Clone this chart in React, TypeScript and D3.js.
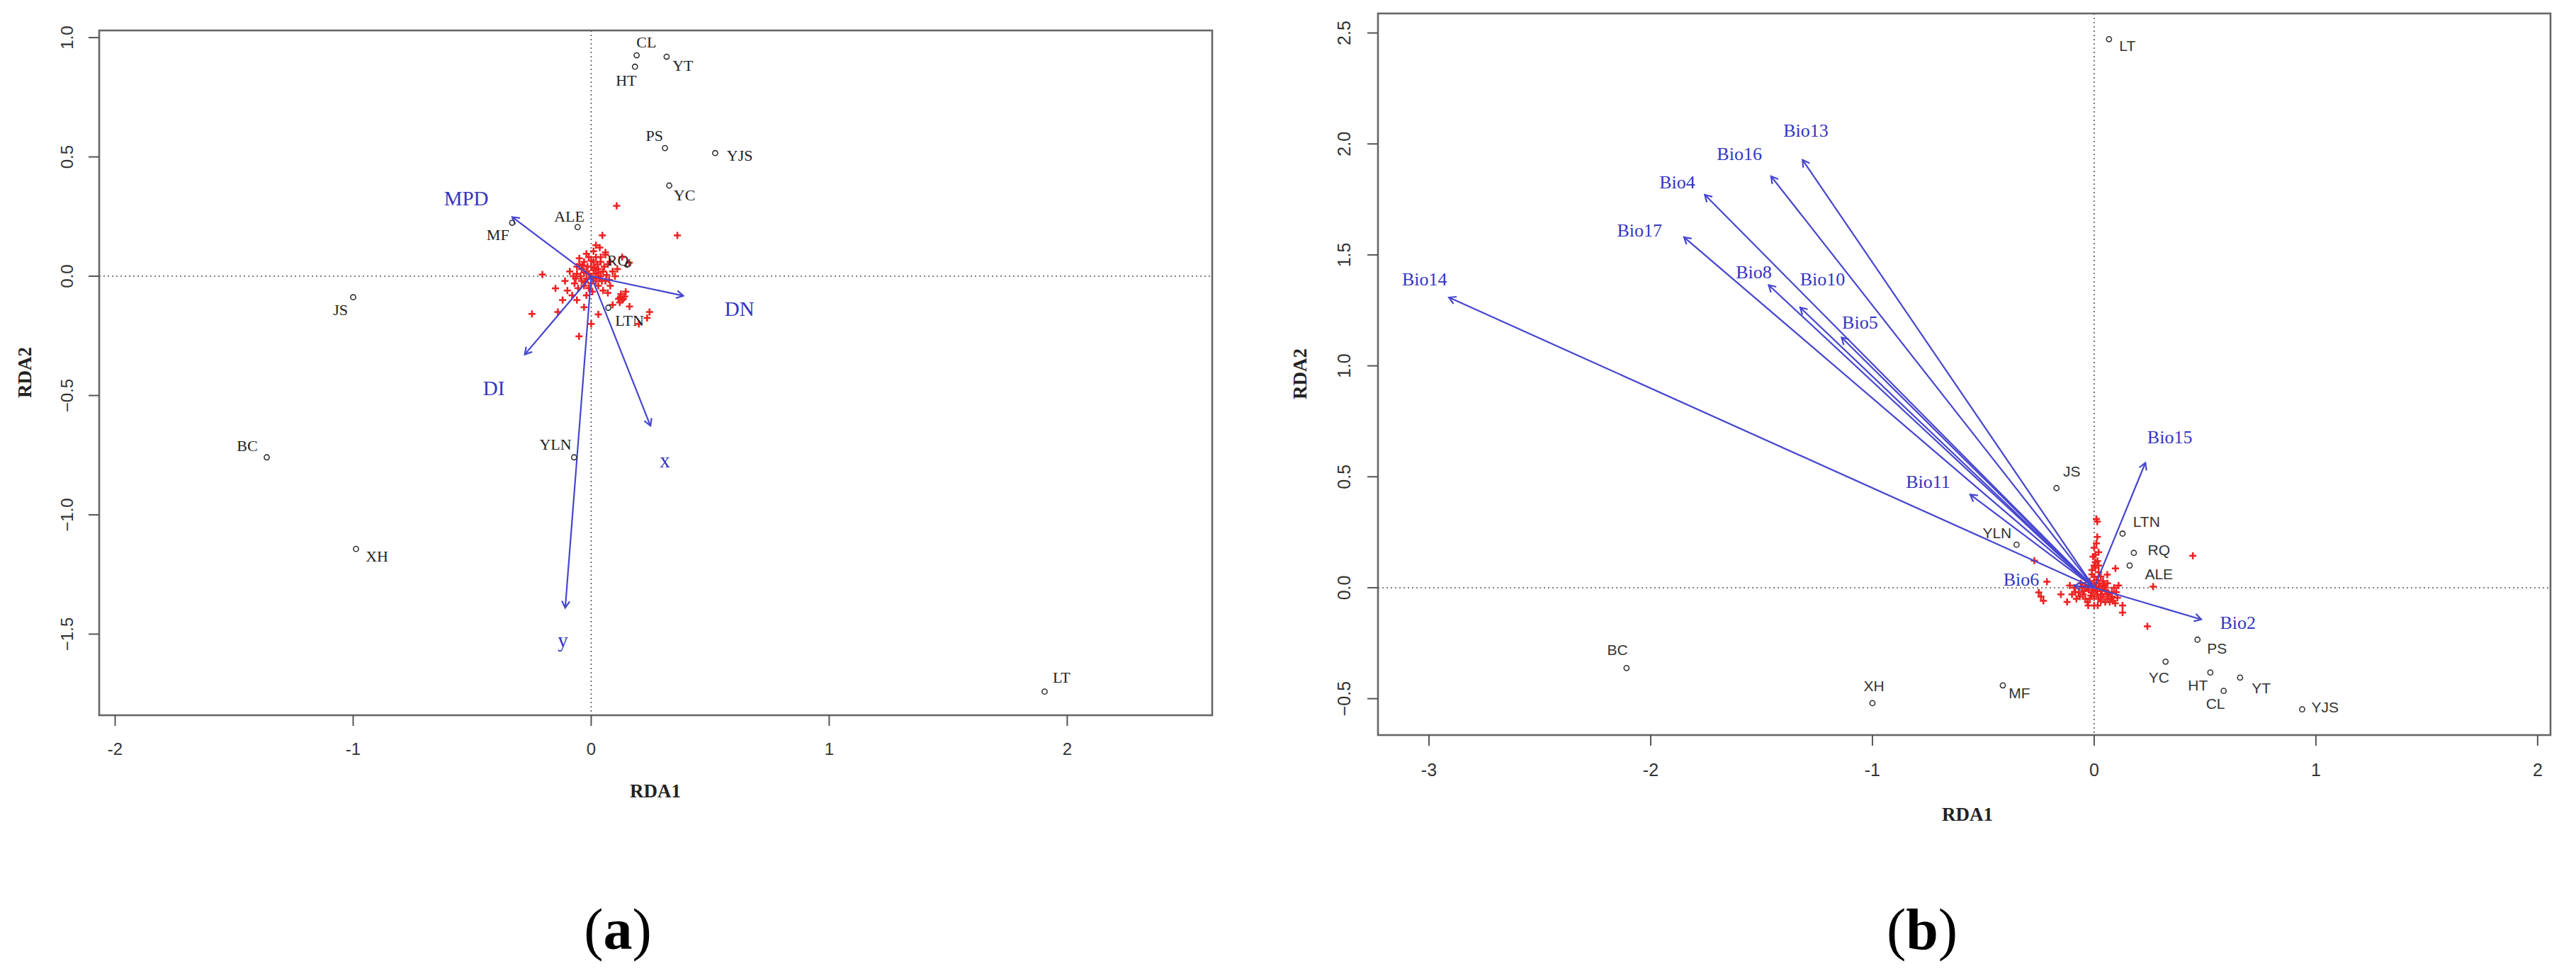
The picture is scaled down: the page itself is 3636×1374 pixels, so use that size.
import React from 'react';
import * as d3 from 'd3';

// ---------- Panel (a) data ----------
const siteNamesA = ["CL", "YT", "HT", "PS", "YJS", "YC", "ALE", "MF", "RQ", "JS", "LTN", "BC", "YLN", "XH", "LT"];
const siteScoresA: [number, number][] = [
  [0.191, 0.926], [0.317, 0.92], [0.184, 0.878], [0.31, 0.537], [0.521, 0.516], [0.328, 0.38],
  [-0.057, 0.206], [-0.332, 0.224], [0.156, 0.051], [-1.0, -0.088], [0.072, -0.132],
  [-1.363, -0.759], [-0.072, -0.759], [-0.988, -1.143], [1.905, -1.741],
];
const siteLabelPosA: [number, number][] = [
  [0.232, 0.982], [0.385, 0.884], [0.147, 0.821], [0.266, 0.589], [0.624, 0.506], [0.392, 0.341],
  [-0.092, 0.251], [-0.392, 0.173], [0.112, 0.067], [-1.053, -0.14], [0.161, -0.186],
  [-1.445, -0.711], [-0.15, -0.706], [-0.9, -1.174], [1.976, -1.682],
];
const varNamesA = ["MPD", "DN", "DI", "x", "y"];
const varTipsA: [number, number][] = [
  [-0.332, 0.248], [0.387, -0.082], [-0.279, -0.328], [0.249, -0.627], [-0.109, -1.39],
];
const varLabelPosA: [number, number][] = [
  [-0.525, 0.328], [0.623, -0.136], [-0.409, -0.47], [0.31, -0.773], [-0.119, -1.526],
];
const speciesA: [number, number][] = [
  [0.107, 0.295], [0.362, 0.171], [0.047, 0.171], [0.036, 0.12], [-0.02, 0.094], [0.01, 0.105],
  [0.06, 0.09], [0.16, 0.057], [-0.205, 0.007], [-0.15, -0.051], [-0.249, -0.158], [-0.14, -0.15],
  [-0.051, -0.252], [0.161, -0.127], [0.245, -0.15], [0.235, -0.175], [0.122, -0.089], [0.13, -0.1],
  [0.125, -0.075], [0.14, -0.085], [0.12, -0.11], [-0.11, -0.02], [-0.1, -0.06], [-0.06, -0.1],
  [-0.03, -0.13], [-0.08, -0.08], [0.05, -0.06], [0.08, -0.04], [0.09, 0.02], [0.07, 0.05],
  [-0.05, 0.05], [-0.06, 0.01], [-0.04, -0.02], [-0.02, 0.02], [0.0, 0.0], [0.02, -0.02],
  [0.03, 0.03], [0.04, 0.0], [-0.03, 0.06], [0.01, 0.06], [0.05, 0.02], [-0.07, -0.03],
  [0.02, 0.08], [-0.01, -0.05], [0.06, -0.02], [-0.02, -0.08], [0.03, -0.04], [0.1, 0.0],
  [-0.09, 0.02], [0.0, 0.04], [-0.04, 0.03], [0.08, 0.06], [0.06, 0.1], [0.02, 0.13],
  [-0.12, -0.1], [0.0, -0.2], [0.03, -0.16], [0.09, -0.12], [0.2, -0.2], [0.13, 0.08],
  [-0.06, 0.04], [0.04, 0.06], [-0.03, -0.04], [0.07, -0.07], [0.11, 0.03],
  [-0.01, 0.01], [0.01, -0.01], [0.02, 0.01], [-0.02, -0.01], [0.03, 0.015], [-0.03, 0.015],
  [0.015, 0.035], [-0.015, 0.04], [0.045, -0.02], [-0.045, 0.0], [0.055, 0.04], [-0.055, -0.05],
  [0.0, -0.03], [0.01, 0.025], [-0.025, -0.025], [0.035, -0.01], [-0.035, 0.045], [0.025, 0.05],
  [0.065, 0.005], [-0.065, -0.01], [0.0, 0.065], [-0.01, 0.08], [0.04, 0.08], [-0.05, 0.075],
  [0.075, -0.015], [0.135, -0.095], [0.145, -0.065], [0.115, -0.095], [0.005, -0.065], [-0.075, 0.0],
];
const xTicksA = [-2, -1, 0, 1, 2];
const yTicksA = [-1.5, -1.0, -0.5, 0.0, 0.5, 1.0];

// ---------- Panel (b) data ----------
const siteNamesB = ["LT", "JS", "LTN", "RQ", "ALE", "YLN", "BC", "XH", "MF", "PS", "YC", "HT", "YT", "CL", "YJS"];
const siteScoresB: [number, number][] = [
  [0.067, 2.472], [-0.17, 0.449], [0.128, 0.244], [0.179, 0.157], [0.16, 0.1], [-0.35, 0.194],
  [-2.109, -0.362], [-1.0, -0.52], [-0.412, -0.44], [0.466, -0.234], [0.322, -0.333],
  [0.524, -0.382], [0.658, -0.405], [0.584, -0.465], [0.938, -0.548],
];
const siteLabelPosB: [number, number][] = [
  [0.15, 2.443], [-0.101, 0.524], [0.236, 0.297], [0.292, 0.171], [0.292, 0.061], [-0.438, 0.247],
  [-2.15, -0.279], [-0.993, -0.443], [-0.337, -0.474], [0.554, -0.274], [0.292, -0.404],
  [0.468, -0.44], [0.753, -0.452], [0.547, -0.521], [1.041, -0.539],
];
const varNamesB = ["Bio13", "Bio16", "Bio4", "Bio17", "Bio14", "Bio8", "Bio10", "Bio5", "Bio11", "Bio15", "Bio2", "Bio6"];
const varTipsB: [number, number][] = [
  [-1.315, 1.928], [-1.457, 1.854], [-1.756, 1.771], [-1.85, 1.58], [-2.91, 1.308], [-1.468, 1.364],
  [-1.326, 1.263], [-1.139, 1.128], [-0.559, 0.42], [0.231, 0.563], [0.483, -0.143], [-0.09, 0.009],
];
const varLabelPosB: [number, number][] = [
  [-1.3, 2.06], [-1.6, 1.955], [-1.88, 1.827], [-2.05, 1.61], [-3.02, 1.389], [-1.535, 1.42],
  [-1.225, 1.389], [-1.056, 1.196], [-0.749, 0.476], [0.341, 0.679], [0.648, -0.157], [-0.329, 0.038],
];
const speciesB: [number, number][] = [
  [0.014, 0.298], [0.01, 0.31], [0.014, 0.229], [0.005, 0.149], [-0.005, 0.14], [0.015, 0.12],
  [0.005, 0.09], [0.02, 0.07], [0.0, 0.1], [0.03, 0.05], [0.096, 0.087], [0.445, 0.144],
  [0.266, 0.005], [0.24, -0.174], [0.128, -0.08], [0.128, -0.112], [-0.213, 0.027], [-0.25, -0.021],
  [-0.24, -0.04], [-0.229, -0.059], [-0.122, -0.064], [-0.15, -0.03], [-0.027, -0.08], [0.016, -0.08],
  [0.059, 0.059], [0.07, -0.064], [0.08, -0.04], [0.09, 0.0], [0.1, -0.02], [-0.09, 0.0],
  [-0.07, -0.02], [-0.05, -0.03], [-0.03, 0.0], [-0.01, -0.02], [0.01, 0.0], [0.03, -0.03],
  [0.05, -0.01], [0.06, 0.02], [-0.06, 0.02], [-0.04, -0.05], [-0.02, -0.05], [0.0, -0.04],
  [0.02, -0.05], [0.04, -0.04], [0.06, -0.05], [0.08, -0.02], [0.0, 0.02], [0.02, 0.02],
  [-0.02, 0.03], [0.04, 0.03], [-0.08, -0.05], [-0.1, -0.03], [0.11, 0.01], [0.05, 0.0],
  [-0.11, 0.01], [0.0, 0.18], [0.01, 0.2], [0.02, 0.16], [-0.27, 0.122], [0.0, -0.08],
  [-0.01, 0.01], [0.01, -0.015], [0.025, 0.005], [-0.025, -0.01], [0.035, -0.015], [-0.045, -0.015],
  [0.045, 0.01], [-0.055, 0.0], [0.065, -0.025], [-0.065, -0.04], [0.075, -0.05], [0.015, -0.03],
  [-0.015, -0.035], [0.03, -0.06], [-0.03, -0.065], [0.05, -0.065], [0.085, -0.06], [-0.085, -0.02],
  [0.0, 0.05], [0.01, 0.035], [-0.01, 0.06], [0.005, 0.115], [0.02, 0.1], [-0.01, 0.08],
  [0.04, 0.01], [0.06, -0.03], [-0.04, 0.01], [0.0, -0.01], [0.105, -0.045], [0.095, -0.07],
];
const xTicksB = [-3, -2, -1, 0, 1, 2];
const yTicksB = [-0.5, 0.0, 0.5, 1.0, 1.5, 2.0, 2.5];

const SERIF = '"Liberation Serif", "Times New Roman", serif';
const SANS = '"Liberation Sans", Arial, sans-serif';
const ARROW = '#4646cf';
const VARTXT = '#3434c4';

type PanelProps = {
  box: { l: number; t: number; r: number; b: number };
  xDom: [number, number];
  yDom: [number, number];
  xTicks: number[];
  yTicks: number[];
  xTickY: number;
  yTickX: number;
  tickFont: number;
  siteNames: string[];
  sites: [number, number][];
  siteLabels: [number, number][];
  siteFont: string;
  siteSize: number;
  siteColor: string;
  varNames: string[];
  varTips: [number, number][];
  varLabels: [number, number][];
  varSize: number;
  species: [number, number][];
  rda1: [number, number];
  rda2: [number, number];
  panelLabel: string;
  panelPos: [number, number];
  yFmt: (v: number) => string;
};

function Panel(p: PanelProps) {
  const x = d3.scaleLinear().domain(p.xDom).range([p.box.l, p.box.r]);
  const y = d3.scaleLinear().domain(p.yDom).range([p.box.b, p.box.t]);
  const ox = x(0), oy = y(0);
  const tick = 15;
  const head = 11;
  return (
    <g>
      <line x1={p.box.l} x2={p.box.r} y1={oy} y2={oy} stroke="#555" strokeWidth={1.6} strokeDasharray="2,4" />
      <line x1={ox} x2={ox} y1={p.box.t} y2={p.box.b} stroke="#555" strokeWidth={1.6} strokeDasharray="2,4" />
      {p.species.map((s, i) => {
        const cx = x(s[0]), cy = y(s[1]);
        return (
          <g key={'sp' + i} stroke="#ee2222" strokeWidth={2.6}>
            <line x1={cx - 5} x2={cx + 5} y1={cy} y2={cy} />
            <line x1={cx} x2={cx} y1={cy - 5} y2={cy + 5} />
          </g>
        );
      })}
      {p.varTips.map((v, i) => {
        const tx = x(v[0]), ty = y(v[1]);
        const a = Math.atan2(ty - oy, tx - ox);
        const h1 = [tx - head * Math.cos(a - Math.PI / 6), ty - head * Math.sin(a - Math.PI / 6)];
        const h2 = [tx - head * Math.cos(a + Math.PI / 6), ty - head * Math.sin(a + Math.PI / 6)];
        return (
          <g key={'ar' + i} stroke={ARROW} strokeWidth={2.2} fill="none">
            <line x1={ox} y1={oy} x2={tx} y2={ty} />
            <polyline points={`${h1[0]},${h1[1]} ${tx},${ty} ${h2[0]},${h2[1]}`} />
          </g>
        );
      })}
      {p.sites.map((s, i) => (
        <circle key={'st' + i} cx={x(s[0])} cy={y(s[1])} r={3.6} fill="none" stroke="#333" strokeWidth={1.6} />
      ))}
      {p.siteLabels.map((s, i) => (
        <text key={'sl' + i} x={x(s[0])} y={y(s[1])} textAnchor="middle" dominantBaseline="central"
          fontFamily={p.siteFont} fontSize={p.siteSize} fill={p.siteColor}>{p.siteNames[i]}</text>
      ))}
      {p.varLabels.map((s, i) => (
        <text key={'vl' + i} x={x(s[0])} y={y(s[1])} textAnchor="middle" dominantBaseline="central"
          fontFamily={SERIF} fontSize={p.varSize} fill={VARTXT}>{p.varNames[i]}</text>
      ))}
      <rect x={p.box.l} y={p.box.t} width={p.box.r - p.box.l} height={p.box.b - p.box.t}
        fill="none" stroke="#666" strokeWidth={2.6} />
      {p.xTicks.map((t) => (
        <g key={'xt' + t}>
          <line x1={x(t)} x2={x(t)} y1={p.box.b} y2={p.box.b + tick} stroke="#555" strokeWidth={2} />
          <text x={x(t)} y={p.xTickY} textAnchor="middle" dominantBaseline="central"
            fontFamily={SANS} fontSize={p.tickFont} fill="#333">{String(t)}</text>
        </g>
      ))}
      {p.yTicks.map((t) => (
        <g key={'yt' + t}>
          <line x1={p.box.l - tick} x2={p.box.l} y1={y(t)} y2={y(t)} stroke="#555" strokeWidth={2} />
          <text x={p.yTickX} y={y(t)} textAnchor="middle" dominantBaseline="central"
            transform={`rotate(-90 ${p.yTickX} ${y(t)})`}
            fontFamily={SANS} fontSize={p.tickFont} fill="#333">{p.yFmt(t)}</text>
        </g>
      ))}
      <text x={p.rda1[0]} y={p.rda1[1]} textAnchor="middle" dominantBaseline="central"
        fontFamily={SERIF} fontWeight="bold" fontSize={27} fill="#222">RDA1</text>
      <text x={p.rda2[0]} y={p.rda2[1]} textAnchor="middle" dominantBaseline="central"
        transform={`rotate(-90 ${p.rda2[0]} ${p.rda2[1]})`}
        fontFamily={SERIF} fontWeight="bold" fontSize={27} fill="#222">RDA2</text>
      <text x={p.panelPos[0]} y={p.panelPos[1]} textAnchor="middle" fontFamily={SERIF} fontSize={82} fill="#000">
        (<tspan fontWeight="bold">{p.panelLabel}</tspan>)
      </text>
    </g>
  );
}

export default function App() {
  const fmt = d3.format('.1f');
  return (
    <svg width={3636} height={1374} style={{ position: 'absolute', left: 0, top: 0, background: '#fff' }}>
      <rect x={0} y={0} width={3636} height={1374} fill="#fff" />
      <Panel
        box={{ l: 140, t: 43, r: 1711, b: 1010 }}
        xDom={[-2.067, 2.609]}
        yDom={[-1.84, 1.03]}
        xTicks={xTicksA}
        yTicks={yTicksA}
        xTickY={1057}
        yTickX={95}
        tickFont={24}
        siteNames={siteNamesA}
        sites={siteScoresA}
        siteLabels={siteLabelPosA}
        siteFont={SERIF}
        siteSize={22}
        siteColor="#222"
        varNames={varNamesA}
        varTips={varTipsA}
        varLabels={varLabelPosA}
        varSize={29}
        species={speciesA}
        rda1={[925, 1117]}
        rda2={[35, 526]}
        panelLabel="a"
        panelPos={[872, 1340]}
        yFmt={fmt}
      />
      <Panel
        box={{ l: 1945, t: 19, r: 3600, b: 1038 }}
        xDom={[-3.23, 2.058]}
        yDom={[-0.664, 2.588]}
        xTicks={xTicksB}
        yTicks={yTicksB}
        xTickY={1087}
        yTickX={1897}
        tickFont={25}
        siteNames={siteNamesB}
        sites={siteScoresB}
        siteLabels={siteLabelPosB}
        siteFont={SANS}
        siteSize={21}
        siteColor="#333"
        varNames={varNamesB}
        varTips={varTipsB}
        varLabels={varLabelPosB}
        varSize={26}
        species={speciesB}
        rda1={[2777, 1150]}
        rda2={[1835, 528]}
        panelLabel="b"
        panelPos={[2713, 1340]}
        yFmt={fmt}
      />
    </svg>
  );
}
